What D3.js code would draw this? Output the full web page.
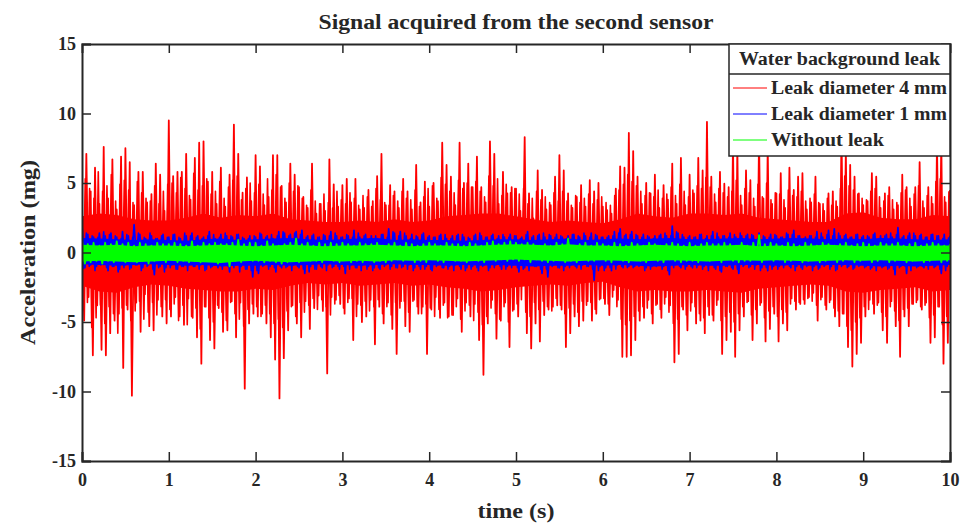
<!DOCTYPE html>
<html>
<head>
<meta charset="utf-8">
<script src="https://cdn.jsdelivr.net/npm/d3@7"></script>
<style>
  body { margin: 0; background: #fff; }
  svg { display: block; }
  text { font-family: "Liberation Serif", "DejaVu Serif", serif; font-weight: bold; fill: #262626; }
</style>
</head>
<body>
<div id="chart"></div>
<script>
// values
// spike samples every *Step seconds, dense core envelope every coreStep seconds
const redStep = 0.025
const blueStep = 1 / 30
const greenStep = 1 / 30
const coreStep = 0.2

// 4 mm leak: main spikes at t = i*redStep
const leak4mm = [
  2.1,-4.9,7.1,-3.2,4.4,-7.4,6.1,-3.8,3.5,-7.0,
  7.6,-7.4,3.9,-5.8,6.7,-4.9,3.1,-4.4,6.9,-8.3,
  7.5,-4.1,6.5,-10.3,3.4,-3.6,5.8,-5.7,5.8,-3.0,
  3.6,-5.3,4.2,-5.6,6.4,-3.4,5.6,-4.6,3.0,-5.1,
  9.5,-4.6,5.5,-3.2,5.8,-4.6,5.8,-5.2,7.1,-3.3,
  3.8,-4.7,6.8,-6.1,7.9,-8.0,8.0,-3.9,5.1,-6.3,
  5.8,-6.9,3.5,-4.0,6.1,-5.7,3.3,-5.6,5.6,-3.5,
  9.2,-6.1,7.1,-3.6,4.3,-9.8,5.4,-5.1,3.7,-4.4,
  7.0,-4.6,6.2,-4.4,3.4,-5.1,4.0,-6.1,7.0,-7.7,
  7.0,-10.5,4.8,-7.6,3.6,-5.6,6.4,-3.8,5.6,-5.1,
  4.7,-6.1,4.0,-3.5,3.2,-5.5,6.4,-4.0,2.8,-3.1,
  3.5,-4.2,3.0,-8.7,6.7,-3.2,4.9,-3.4,3.3,-3.7,
  4.85,-4.4,5.3,-3.3,3.6,-6.3,5.3,-3.7,3.1,-5.0,
  3.2,-4.6,4.5,-3.4,3.7,-6.6,5.5,-3.9,7.1,-5.1,
  3.4,-3.6,4.85,-5.5,4.4,-7.3,3.2,-3.5,5.3,-5.3,
  4.4,-5.7,3.1,-3.4,6.3,-4.4,3.6,-3.9,5.1,-7.3,
  3.3,-4.1,5.0,-3.2,3.7,-4.7,7.9,-3.6,6.3,-4.6,
  5.45,-4.5,3.4,-3.3,7.9,-5.7,5.0,-3.6,6.4,-4.6,
  4.7,-3.7,6.9,-6.3,4.7,-8.8,3.6,-5.1,8.0,-3.4,
  7.1,-6.2,3.5,-4.9,5.8,-3.6,4.25,-6.8,4.7,-4.1,
  4.6,-4.6,3.0,-2.2,8.3,-5.8,4.25,-6.9,2.45,-5.1,
  5.9,-6.4,4.5,-4.5,3.1,-4.1,3.4,-3.9,5.45,-3.8,
  7.0,-4.1,5.9,-6.8,4.25,-5.8,3.2,-4.6,4.0,-5.3,
  4.85,-4.9,3.3,-3.5,5.2,-4.9,4.4,-4.4,5.0,-3.3,
  3.3,-3.7,3.05,-4.5,2.8,-2.7,4.6,-3.4,6.2,-7.5,
  6.1,-7.5,8.6,-7.4,7.3,-6.3,5.45,-4.9,3.5,-4.7,
  5.0,-3.4,4.25,-5.1,5.6,-3.7,3.2,-4.7,4.85,-3.2,
  3.8,-3.8,6.4,-7.9,3.5,-7.3,6.8,-4.1,3.4,-5.6,
  5.6,-3.6,4.25,-5.1,6.8,-4.9,5.9,-5.8,9.4,-4.5,
  5.45,-4.9,3.6,-3.4,5.8,-7.3,4.95,-6.3,4.7,-5.7,
  8.0,-7.5,7.5,-5.6,3.4,-4.6,5.9,-3.5,5.2,-6.3,
  3.3,-5.1,8.2,-3.6,3.9,-6.4,7.6,-5.5,3.5,-4.4,
  4.25,-6.4,5.7,-5.1,3.2,-5.6,6.1,-3.3,4.5,-4.1,
  5.45,-3.7,5.7,-3.7,3.1,-3.2,3.6,-2.9,5.45,-4.9,
  3.5,-3.2,3.0,-4.1,4.25,-3.4,4.4,-4.6,3.3,-5.3,
  8.5,-4.4,7.3,-6.8,6.3,-8.2,5.45,-7.3,4.25,-6.5,
  3.4,-4.6,3.7,-3.4,5.7,-4.4,5.45,-3.6,3.2,-5.6,
  4.25,-6.5,4.7,-3.5,3.1,-5.3,3.4,-7.5,5.6,-4.6,
  4.7,-5.3,3.3,-3.7,4.7,-3.4,6.5,-4.1,3.2,-3.6,
  4.7,-6.5,3.5,-6.1,7.8,-3.9,8.0,-8.0,3.6,-6.5,
  4.5
]
// 4 mm leak: in-between spikes at t = (i + 0.5)*redStep
const leak4mmMid = [
  -4.2,5.3,-3.6,4.6,-5.4,3.9,-4.7,5.8,-3.8,4.4,
  -5.1,4.8,-3.9,5.6,-4.4,3.7,-5.8,4.9,-4.0,5.2,
  -3.8,4.5,-4.9,3.6,-4.2,5.1,-3.5,4.3,-4.8,3.9,
  -4.3,3.7,-3.6,4.8,-4.5,3.5,-3.9,4.4,-3.4,4.9,
  -4.1,5.0,-3.7,4.3,-4.9,5.4,-3.8,4.6,-5.2,4.1,
  -4.6,5.7,-4.0,4.5,-5.5,4.8,-3.9,5.3,-4.7,4.2,
  -5.0,4.4,-3.8,5.1,-4.3,3.9,-4.9,4.7,-3.6,5.2,
  -4.4,5.5,-4.8,3.8,-5.3,4.6,-4.1,5.0,-3.7,4.3,
  -3.9,4.9,-4.6,4.2,-3.8,5.3,-4.4,4.5,-5.1,5.6,
  -4.8,4.7,-5.4,3.9,-4.2,5.0,-3.9,4.4,-4.6,4.8,
  -3.6,3.9,-4.3,3.4,-3.8,4.5,-3.3,3.7,-4.1,3.5,
  -3.4,4.2,-3.9,3.6,-4.5,3.2,-3.7,4.4,-3.1,3.8,
  -4.0,3.5,-3.6,4.3,-3.3,3.9,-4.6,3.4,-3.8,4.1,
  -3.5,4.0,-4.2,3.3,-3.9,4.6,-3.4,3.8,-4.4,3.6,
  -3.9,3.4,-4.5,4.1,-3.6,3.7,-4.0,4.4,-3.5,3.9,
  -4.3,3.8,-3.5,4.5,-3.9,3.3,-4.4,4.0,-3.7,4.6,
  -4.0,4.8,-4.6,3.9,-4.1,5.4,-3.8,4.9,-4.7,4.4,
  -4.5,4.3,-3.9,5.2,-4.8,4.6,-4.2,5.0,-3.8,4.7,
  -4.9,5.1,-4.3,4.4,-5.2,4.0,-4.6,5.5,-4.0,4.8,
  -4.4,5.3,-4.8,4.1,-3.9,4.9,-5.0,4.3,-4.2,4.6,
  -3.7,4.2,-3.4,4.6,-4.3,3.5,-4.6,3.9,-3.6,4.4,
  -4.1,3.8,-3.5,4.0,-3.9,3.6,-4.2,4.3,-3.3,3.7,
  -3.8,4.4,-4.4,3.7,-4.0,3.4,-3.7,4.1,-4.3,3.6,
  -3.5,3.9,-3.8,4.2,-3.6,3.5,-4.1,3.8,-3.4,4.0,
  -3.3,3.6,-3.7,3.4,-3.2,4.1,-3.9,4.5,-4.8,4.9,
  -5.2,5.6,-4.9,5.1,-4.6,4.8,-4.2,4.4,-3.9,4.1,
  -4.0,4.3,-4.4,4.0,-3.8,4.5,-4.1,3.9,-3.7,4.2,
  -4.3,4.7,-5.1,4.1,-4.8,4.9,-3.9,4.4,-4.5,4.0,
  -4.2,4.5,-3.9,4.8,-4.4,4.6,-4.7,5.4,-3.9,4.7,
  -4.5,4.2,-3.8,4.6,-4.9,4.3,-4.6,4.0,-4.3,4.4,
  -5.0,5.2,-4.4,4.1,-3.9,4.6,-3.6,4.3,-4.5,3.9,
  -4.1,4.9,-3.8,4.0,-4.7,5.0,-4.2,3.8,-3.9,4.3,
  -4.6,4.2,-4.1,3.8,-4.3,4.5,-3.7,4.1,-3.5,4.0,
  -3.6,4.4,-3.4,3.7,-3.3,3.9,-3.5,4.2,-3.8,3.6,
  -3.4,3.5,-3.8,3.9,-3.6,3.4,-4.0,3.7,-4.2,4.6,
  -4.4,5.5,-5.3,4.8,-5.6,4.5,-5.0,4.2,-4.7,3.9,
  -3.9,3.8,-4.1,4.4,-3.7,4.6,-3.8,4.0,-4.3,3.7,
  -4.6,4.1,-3.9,3.8,-4.2,3.6,-4.9,4.3,-4.1,4.5,
  -4.0,3.9,-3.7,4.2,-3.6,4.8,-3.9,3.7,-3.8,4.1,
  -4.7,4.0,-4.5,5.1,-3.9,5.3,-5.2,4.0,-4.6,4.4
]
const leak4mmCoreHi = [2.6,2.8,2.7,2.4,2.3,2.3,2.5,2.8,2.5,2.7,2.6,2.8,2.4,2.3,2.2,2.2,2.3,2.2,2.4,2.2,2.3,2.6,2.7,2.8,2.8,2.6,2.4,2.2,2.3,2.2,2.1,2.4,2.8,2.6,2.5,2.8,2.8,2.7,2.8,2.5,2.4,2.3,2.2,2.2,2.8,2.9,2.5,2.4,2.4,2.7,2.6]
const leak4mmCoreLo = [-2.4,-2.8,-2.9,-2.5,-2.3,-2.4,-2.6,-2.7,-2.8,-2.8,-2.6,-2.7,-2.4,-2.2,-2.3,-2.2,-2.4,-2.3,-2.2,-2.4,-2.3,-2.5,-2.6,-2.8,-2.7,-2.5,-2.4,-2.3,-2.4,-2.2,-2.1,-2.5,-2.8,-2.7,-2.8,-2.8,-2.7,-2.8,-2.9,-2.6,-2.5,-2.4,-2.3,-2.4,-2.8,-2.9,-2.7,-2.6,-2.5,-2.8,-2.7]

// 1 mm leak: main spikes at t = i*blueStep
const leak1mm = [
  2.0,-1.1,1.3,-0.9,1.1,-1.0,1.4,-0.8,1.2,-1.3,
  1.4,-1.0,1.1,-1.2,1.5,-0.9,1.2,-1.1,2.0,-0.9,
  1.3,-1.1,1.0,-0.9,1.2,-1.6,1.0,-1.0,1.3,-1.1,
  1.1,-0.9,1.3,-1.2,1.0,-1.0,1.2,-0.9,1.4,-1.0,
  1.2,-0.9,1.1,-1.2,1.5,-1.0,1.0,-1.1,1.3,-0.9,
  1.2,-1.4,1.1,-0.9,1.3,-1.0,1.0,-1.2,1.2,-1.75,
  1.1,-1.5,1.3,-0.9,1.2,-1.0,1.0,-1.4,1.5,-1.1,
  1.4,-1.0,1.3,-0.9,1.5,-1.1,1.6,-1.5,1.2,-1.0,
  1.3,-1.2,1.1,-1.1,1.2,-0.9,1.5,-1.0,1.2,-1.2,
  1.1,-1.5,1.2,-0.9,1.6,-1.1,1.1,-0.9,1.3,-1.0,
  1.2,-1.1,1.0,-1.2,1.3,-0.9,1.7,-1.0,1.4,-1.1,
  1.5,-1.0,1.2,-0.9,1.3,-1.1,1.1,-1.2,1.4,-1.0,
  1.2,-1.3,1.1,-0.9,1.3,-1.1,1.0,-1.0,1.2,-0.9,
  1.3,-1.2,1.1,-1.1,1.0,-1.0,1.3,-1.3,1.2,-0.9,
  1.1,-1.1,1.3,-0.9,1.2,-1.2,1.1,-1.0,1.3,-0.9,
  1.2,-1.4,1.1,-1.1,1.5,-0.9,1.2,-1.0,1.3,-1.5,
  1.1,-1.75,1.2,-0.9,1.3,-1.1,1.1,-1.0,1.2,-0.9,
  1.3,-1.1,1.1,-0.9,1.2,-1.0,1.4,-2.0,1.2,-1.0,
  1.1,-1.1,1.2,-1.3,1.5,-0.9,1.7,-1.1,1.3,-1.0,
  1.5,-1.0,1.2,-0.9,1.3,-1.1,1.1,-1.0,1.2,-0.9,
  1.3,-1.0,1.2,-1.6,1.9,-0.9,1.4,-1.1,1.1,-1.0,
  1.2,-1.1,1.1,-0.9,1.3,-1.0,1.2,-0.9,1.5,-1.2,
  1.1,-1.4,1.2,-1.0,1.4,-1.2,1.1,-1.5,1.2,-0.9,
  1.3,-1.0,1.2,-0.9,1.4,-1.1,1.1,-1.3,1.3,-1.0,
  1.2,-1.0,1.1,-0.9,1.3,-1.1,1.6,-1.0,1.2,-1.2,
  1.1,-0.9,1.2,-1.0,1.5,-1.1,1.1,-0.9,1.6,-1.0,
  1.7,-1.2,1.2,-0.9,1.3,-1.0,1.1,-1.1,1.3,-0.9,
  1.2,-1.0,1.1,-1.1,1.4,-0.9,1.2,-1.0,1.3,-1.1,
  1.1,-1.6,1.8,-1.0,1.2,-1.5,1.4,-0.9,1.2,-1.0,
  1.3,-1.1,1.1,-0.9,1.3,-1.0,1.2,-1.5,1.3,-1.0,
  1.2
]
// 1 mm leak: in-between spikes at t = (i + 0.5)*blueStep
const leak1mmMid = [
  -1.2,1.4,-1.0,1.2,-1.3,1.1,-0.9,1.5,-1.1,1.3,
  -1.0,1.2,-1.4,1.0,-1.1,1.3,-1.2,1.1,-0.9,1.4,
  -1.3,1.1,-1.0,1.4,-1.2,1.0,-1.1,1.2,-1.4,1.1,
  -1.1,1.3,-1.2,1.1,-1.0,1.4,-1.3,1.2,-1.0,1.1,
  -1.2,1.0,-1.3,1.2,-1.1,1.3,-0.9,1.1,-1.2,1.4,
  -1.0,1.2,-1.1,1.3,-1.4,1.1,-1.2,1.0,-1.3,1.2,
  -1.3,1.4,-1.0,1.1,-1.2,1.3,-1.1,1.2,-1.0,1.5,
  -1.1,1.2,-1.3,1.4,-1.0,1.3,-1.2,1.1,-1.4,1.2,
  -1.2,1.1,-1.0,1.3,-1.3,1.2,-1.1,1.4,-1.0,1.1,
  -1.0,1.3,-1.2,1.1,-1.1,1.4,-1.3,1.2,-1.2,1.0,
  -1.3,1.2,-1.1,1.3,-1.0,1.1,-1.2,1.5,-1.1,1.2,
  -1.1,1.4,-1.2,1.0,-1.3,1.2,-1.0,1.3,-1.2,1.1,
  -1.2,1.1,-1.0,1.2,-1.1,1.3,-1.2,1.0,-1.3,1.2,
  -1.0,1.3,-1.3,1.1,-1.2,1.2,-1.1,1.4,-1.0,1.1,
  -1.3,1.2,-1.1,1.0,-1.0,1.3,-1.2,1.1,-1.1,1.2,
  -1.1,1.0,-1.2,1.3,-1.3,1.1,-1.0,1.2,-1.2,1.4,
  -1.2,1.3,-1.0,1.1,-1.1,1.2,-1.3,1.0,-1.1,1.3,
  -1.0,1.2,-1.2,1.4,-1.0,1.1,-1.2,1.3,-1.3,1.1,
  -1.3,1.1,-1.1,1.2,-1.2,1.4,-1.0,1.2,-1.1,1.3,
  -1.1,1.3,-1.0,1.1,-1.3,1.2,-1.2,1.0,-1.0,1.2,
  -1.2,1.4,-1.3,1.2,-1.1,1.5,-1.0,1.3,-1.2,1.1,
  -1.0,1.1,-1.1,1.3,-1.2,1.0,-1.3,1.2,-1.1,1.4,
  -1.3,1.2,-1.0,1.1,-1.1,1.3,-1.2,1.4,-1.0,1.2,
  -1.1,1.3,-1.2,1.0,-1.3,1.2,-1.1,1.1,-1.2,1.3,
  -1.2,1.1,-1.1,1.4,-1.0,1.3,-1.3,1.2,-1.1,1.0,
  -1.0,1.2,-1.3,1.1,-1.2,1.4,-1.0,1.3,-1.2,1.2,
  -1.3,1.4,-1.0,1.2,-1.1,1.1,-1.2,1.3,-1.0,1.1,
  -1.1,1.2,-1.2,1.3,-1.3,1.0,-1.1,1.2,-1.2,1.4,
  -1.2,1.3,-1.1,1.1,-1.0,1.2,-1.3,1.4,-1.1,1.2,
  -1.0,1.1,-1.2,1.3,-1.1,1.2,-1.2,1.0,-1.3,1.1
]
const leak1mmCoreHi = [1.05,1.0,0.95,0.9,0.95,0.9,0.85,0.95,1.0,0.9,0.95,1.0,1.05,0.95,0.9,0.95,1.0,1.05,0.9,0.95,0.9,0.9,0.85,0.9,0.95,0.95,0.9,0.95,1.0,0.9,0.95,1.0,0.95,1.0,1.05,0.95,0.95,1.0,1.05,0.95,1.0,1.05,1.0,0.95,1.0,0.95,1.05,1.0,0.95,0.9,0.95]
const leak1mmCoreLo = [-0.85,-0.9,-0.95,-0.9,-0.85,-0.9,-0.95,-0.9,-1.0,-0.95,-0.95,-0.9,-0.95,-0.9,-0.85,-0.9,-0.95,-0.9,-0.85,-0.9,-0.9,-0.95,-0.9,-0.95,-0.9,-0.95,-1.0,-0.95,-0.95,-0.9,-0.95,-0.9,-0.95,-1.0,-0.95,-0.9,-0.95,-0.95,-0.9,-0.9,-0.95,-0.9,-0.95,-0.9,-0.9,-0.95,-1.0,-0.95,-1.0,-0.95,-0.9]

const noLeak = [
  0.9,-0.8,0.6,-0.7,0.7,-0.6,0.5,-0.8,0.7,-0.6,
  0.6,-0.7,0.8,-0.5,0.6,-0.7,0.7,-0.6,0.5,-0.7,
  0.7,-0.6,0.6,-0.8,0.5,-0.6,0.7,-0.5,0.6,-0.7,
  0.6,-0.5,0.7,-0.7,0.6,-0.6,0.5,-0.7,0.8,-0.6,
  0.5,-0.7,0.7,-0.6,0.6,-0.5,0.7,-0.8,0.6,-0.6,
  0.6,-1.0,0.7,-0.6,0.9,-0.7,0.6,-0.5,0.7,-0.6,
  0.7,-0.6,0.5,-0.7,0.8,-0.6,0.6,-0.7,0.5,-0.8,
  0.6,-0.7,0.7,-0.6,1.0,-0.7,0.6,-0.5,0.7,-0.6,
  0.5,-0.6,0.7,-0.7,0.6,-0.5,0.7,-0.6,0.6,-0.7,
  0.7,-0.5,0.6,-0.7,0.5,-0.6,0.7,-0.7,0.6,-0.5,
  0.6,-0.7,0.7,-0.6,0.5,-0.7,0.6,-0.6,0.7,-0.5,
  0.5,-0.6,0.7,-0.5,0.6,-0.7,0.5,-0.6,0.6,-0.7,
  0.7,-0.5,0.6,-0.6,0.5,-0.7,0.7,-0.5,0.6,-0.6,
  0.6,-0.6,0.5,-0.7,0.7,-0.5,0.6,-0.6,0.5,-0.7,
  0.7,-0.5,0.8,-0.6,0.6,-0.5,0.7,-0.6,0.8,-0.5,
  0.7,-0.6,0.6,-0.5,0.7,-0.7,0.6,-0.5,0.5,-0.6,
  0.6,-0.7,0.5,-0.6,0.7,-0.5,0.6,-0.7,1.0,-0.6,
  0.5,-0.7,0.6,-0.5,0.7,-0.6,0.5,-0.6,0.7,-0.5,
  0.6,-0.6,0.5,-0.7,0.7,-0.5,0.6,-0.6,0.5,-0.7,
  0.7,-0.5,0.6,-0.6,0.5,-0.7,0.7,-0.5,0.6,-0.6,
  0.5,-0.7,0.6,-0.5,0.7,-0.6,0.6,-0.7,0.5,-0.6,
  0.7,-0.6,0.5,-0.7,0.6,-0.5,0.7,-0.6,0.6,-0.5,
  0.6,-0.7,0.7,-0.5,0.6,-0.6,0.5,-0.7,0.7,-0.6,
  0.5,-0.6,0.7,-0.5,1.25,-0.7,0.6,-0.5,0.7,-0.6,
  0.6,-0.5,0.5,-0.7,0.7,-0.6,0.6,-0.5,0.5,-0.7,
  0.7,-0.6,0.6,-0.5,0.5,-0.7,0.7,-0.6,0.6,-0.5,
  0.5,-0.7,0.6,-0.6,0.7,-0.5,0.5,-0.7,0.6,-0.6,
  0.7,-0.5,0.6,-0.7,0.5,-0.6,0.7,-0.5,0.6,-0.7,
  0.6,-0.6,0.7,-0.5,0.5,-0.7,0.6,-0.6,0.7,-0.5,
  0.5,-0.7,0.6,-0.6,0.7,-0.5,0.6,-0.7,0.5,-0.6,
  0.6
]
const noLeakCoreHi = [0.55,0.5,0.55,0.45,0.5,0.5,0.45,0.5,0.55,0.5,0.45,0.5,0.55,0.5,0.45,0.5,0.5,0.55,0.5,0.45,0.5,0.5,0.45,0.5,0.55,0.6,0.55,0.5,0.6,0.5,0.5,0.45,0.5,0.55,0.5,0.45,0.5,0.5,0.55,0.45,0.5,0.45,0.5,0.55,0.5,0.45,0.5,0.5,0.45,0.5,0.5]
const noLeakCoreLo = [-0.65,-0.6,-0.65,-0.7,-0.65,-0.6,-0.65,-0.7,-0.75,-0.65,-0.6,-0.65,-0.7,-0.65,-0.6,-0.65,-0.6,-0.65,-0.55,-0.6,-0.55,-0.6,-0.65,-0.6,-0.55,-0.5,-0.55,-0.6,-0.65,-0.6,-0.55,-0.6,-0.65,-0.6,-0.55,-0.6,-0.65,-0.6,-0.55,-0.6,-0.55,-0.6,-0.65,-0.6,-0.55,-0.6,-0.55,-0.6,-0.65,-0.6,-0.55]

const xTicks = [0, 1, 2, 3, 4, 5, 6, 7, 8, 9, 10]
const yTicks = [-15, -10, -5, 0, 5, 10, 15]
const seriesNames = ['Leak diameter 4 mm', 'Leak diameter 1 mm', 'Without leak']
const seriesColors = ['#ff0000', '#0000ff', '#00ff00']
const legendTitle = 'Water background leak'

const svgWidth = 967
const svgHeight = 523
const margin = {top: 44, right: 17, bottom: 62, left: 82}
const graphWidth = svgWidth - margin.left - margin.right
const graphHeight = svgHeight - margin.top - margin.bottom
const axisColor = '#262626'
const tickLen = 9

const svg = d3.select('#chart')
    .append('svg')
    .attr('width', svgWidth)
    .attr('height', svgHeight)

const xScale = d3.scaleLinear().domain([0, 10]).range([margin.left, margin.left + graphWidth])
const yScale = d3.scaleLinear().domain([-15, 15]).range([margin.top + graphHeight, margin.top])

svg.append('defs').append('clipPath').attr('id', 'plotClip')
    .append('rect')
    .attr('x', margin.left).attr('y', margin.top)
    .attr('width', graphWidth).attr('height', graphHeight)

// signals: dense core band + spike traces, red first so the others sit on top
const series = [
    {hi: leak4mmCoreHi, lo: leak4mmCoreLo, traces: [
        {values: leak4mm, t0: 0, step: redStep, width: 1.8},
        {values: leak4mmMid, t0: redStep / 2, step: redStep, width: 1.6}]},
    {hi: leak1mmCoreHi, lo: leak1mmCoreLo, traces: [
        {values: leak1mm, t0: 0, step: blueStep, width: 1.7},
        {values: leak1mmMid, t0: blueStep / 2, step: blueStep, width: 1.5}]},
    {hi: noLeakCoreHi, lo: noLeakCoreLo, traces: [
        {values: noLeak, t0: 0, step: greenStep, width: 1.8}]}
]

const plot = svg.append('g').attr('clip-path', 'url(#plotClip)')
series.forEach((s, k) => {
    const core = d3.area()
        .x((d, i) => xScale(i * coreStep))
        .y0((d, i) => yScale(s.lo[i]))
        .y1(d => yScale(d))
    plot.append('path')
        .datum(s.hi)
        .attr('d', core)
        .attr('fill', seriesColors[k])

    s.traces.forEach(tr => {
        const spikes = d3.line()
            .x((d, i) => xScale(tr.t0 + i * tr.step))
            .y(d => yScale(d))
        plot.append('path')
            .datum(tr.values)
            .attr('d', spikes)
            .attr('fill', 'none')
            .attr('stroke', seriesColors[k])
            .attr('stroke-width', tr.width)
            .attr('stroke-linejoin', 'round')
    })
})

// axes, ticks point inward on all four sides
const bottomAxis = svg.append('g')
    .attr('transform', `translate(0,${margin.top + graphHeight})`)
    .call(d3.axisBottom(xScale).tickValues(xTicks).tickSize(-tickLen).tickPadding(12).tickFormat(d => String(d)))
const topAxis = svg.append('g')
    .attr('transform', `translate(0,${margin.top})`)
    .call(d3.axisTop(xScale).tickValues(xTicks.slice(1, -1)).tickSize(-tickLen).tickFormat(''))
const leftAxis = svg.append('g')
    .attr('transform', `translate(${margin.left},0)`)
    .call(d3.axisLeft(yScale).tickValues(yTicks).tickSize(-tickLen).tickPadding(6).tickFormat(d => String(d)))
const rightAxis = svg.append('g')
    .attr('transform', `translate(${margin.left + graphWidth},0)`)
    .call(d3.axisRight(yScale).tickValues(yTicks.slice(1, -1)).tickSize(-tickLen).tickFormat(''))

;[bottomAxis, topAxis, leftAxis, rightAxis].forEach(ax => {
    ax.select('.domain').attr('stroke', axisColor).attr('stroke-width', 2)
    ax.selectAll('.tick line').attr('stroke', axisColor).attr('stroke-width', 1.5)
    ax.selectAll('.tick text')
        .style('font-family', '"Liberation Serif", serif')
        .style('font-weight', 'bold')
        .style('font-size', '18px')
        .attr('fill', axisColor)
})

// titles (Palatino-like width, stretched to the reference)
svg.append('text')
    .attr('x', margin.left + graphWidth / 2)
    .attr('y', 29)
    .attr('text-anchor', 'middle')
    .attr('textLength', 395)
    .attr('lengthAdjust', 'spacingAndGlyphs')
    .style('font-size', '20px')
    .text('Signal acquired from the second sensor')

svg.append('text')
    .attr('x', margin.left + graphWidth / 2)
    .attr('y', 518)
    .attr('text-anchor', 'middle')
    .attr('textLength', 77)
    .attr('lengthAdjust', 'spacingAndGlyphs')
    .style('font-size', '21px')
    .text('time (s)')

svg.append('text')
    .attr('transform', `translate(35,${margin.top + graphHeight / 2}) rotate(-90)`)
    .attr('text-anchor', 'middle')
    .attr('textLength', 185)
    .attr('lengthAdjust', 'spacingAndGlyphs')
    .style('font-size', '21px')
    .text('Acceleration (mg)')

// legend
const legend = {x: 729, y: margin.top, w: margin.left + graphWidth - 729, titleH: 30, rowH: 26}
const entryWidths = [176, 176, 113]
const lg = svg.append('g')
lg.append('rect')
    .attr('x', legend.x).attr('y', legend.y)
    .attr('width', legend.w).attr('height', legend.titleH + legend.rowH * seriesNames.length + 4)
    .attr('fill', '#fff')
    .attr('stroke', axisColor)
    .attr('stroke-width', 1.5)
lg.append('line')
    .attr('x1', legend.x).attr('x2', legend.x + legend.w)
    .attr('y1', legend.y + legend.titleH).attr('y2', legend.y + legend.titleH)
    .attr('stroke', axisColor).attr('stroke-width', 1.5)
lg.append('text')
    .attr('x', legend.x + legend.w / 2)
    .attr('y', legend.y + 21)
    .attr('text-anchor', 'middle')
    .attr('textLength', 201)
    .attr('lengthAdjust', 'spacingAndGlyphs')
    .style('font-size', '18px')
    .text(legendTitle)
seriesNames.forEach((name, i) => {
    const cy = legend.y + legend.titleH + 14 + i * legend.rowH
    lg.append('line')
        .attr('x1', legend.x + 4).attr('x2', legend.x + 38)
        .attr('y1', cy).attr('y2', cy)
        .attr('stroke', seriesColors[i]).attr('stroke-width', 1)
    lg.append('text')
        .attr('x', legend.x + 42)
        .attr('y', cy + 6)
        .attr('textLength', entryWidths[i])
        .attr('lengthAdjust', 'spacingAndGlyphs')
        .style('font-size', '18px')
        .text(name)
})
</script>
</body>
</html>
